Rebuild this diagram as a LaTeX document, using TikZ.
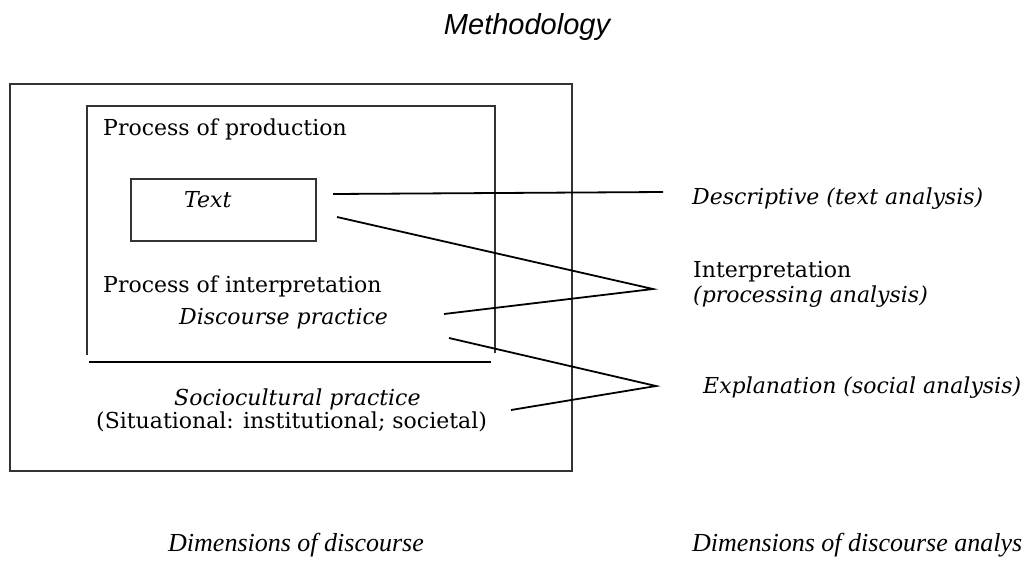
\documentclass[tikz,border=0pt]{standalone}
\usepackage{fontspec}
\setmainfont{DejaVu Serif}
\newfontfamily\headfont{Liberation Sans}
\newfontfamily\capfont{Liberation Serif}
\usetikzlibrary{shapes,arrows}
\tikzstyle{frame} = [draw, line width=1.2pt, color=black!80]
\tikzstyle{block} = [rectangle, draw, line width=1.2pt, color=black!80,
    minimum width=185pt, minimum height=62pt]
\tikzstyle{txt} = [anchor=base west, inner sep=0pt,
    font=\fontsize{22}{26}\selectfont]
\tikzstyle{itx} = [txt, font=\fontsize{22}{26}\selectfont\itshape]
\tikzstyle{caption} = [anchor=base west, inner sep=0pt,
    font=\capfont\itshape\fontsize{26}{30}\selectfont]
\tikzstyle{line} = [draw, line width=1.8pt]

\begin{document}
\begin{tikzpicture}[x=1pt, y=-1pt]
    \useasboundingbox (0,0) rectangle (1027,560);
    \node [anchor=base, inner sep=0pt, font=\headfont\itshape\fontsize{29}{34}\selectfont]
        (title) at (527,34) {Methodology};
    % Frames
    \draw [frame] (10,84) rectangle (572,471);
    \draw [frame] (87,355) |- (495,106) -- (495,353);
    \draw [line] (89,362) -- (491,362);
    % Place nodes
    \node [block] (textbox) at (223.5,210) {};
    \node [itx] (text) at (184,207) {Text};
    \node [txt] (prod) at (103,135) {Process of production};
    \node [txt] (interp) at (103,292) {Process of interpretation};
    \node [itx] (dp) at (179,324) {Discourse practice};
    \node [itx] (scp) at (174,405) {Sociocultural practice};
    \node [txt] (situ) at (96,428) {(Situational: institutional; societal)};
    \node [itx] (descr) at (692,204) {Descriptive (text analysis)};
    \node [txt] (interpr) at (693,277) {Interpretation};
    \node [itx] (proc) at (693,302) {(processing analysis)};
    \node [itx] (expl) at (703,393) {Explanation (social analysis)};
    \node [caption] (dimleft) at (168,551) {Dimensions of discourse};
    \node [caption] (dimright) at (692,551) {Dimensions of discourse analys};
    % Line ends
    \coordinate (d0) at (333,194);
    \coordinate (d1) at (663,192);
    \coordinate (i0) at (337,217);
    \coordinate (iapex) at (653,289);
    \coordinate (i1) at (444,314);
    \coordinate (e0) at (449,338);
    \coordinate (eapex) at (656,386);
    \coordinate (e1) at (511,410);
    % Draw edges
    \path [line] (d0) -- (d1);
    \path [line] (i0) -- (iapex) -- (i1);
    \path [line] (e0) -- (eapex) -- (e1);
\end{tikzpicture}
\end{document}
